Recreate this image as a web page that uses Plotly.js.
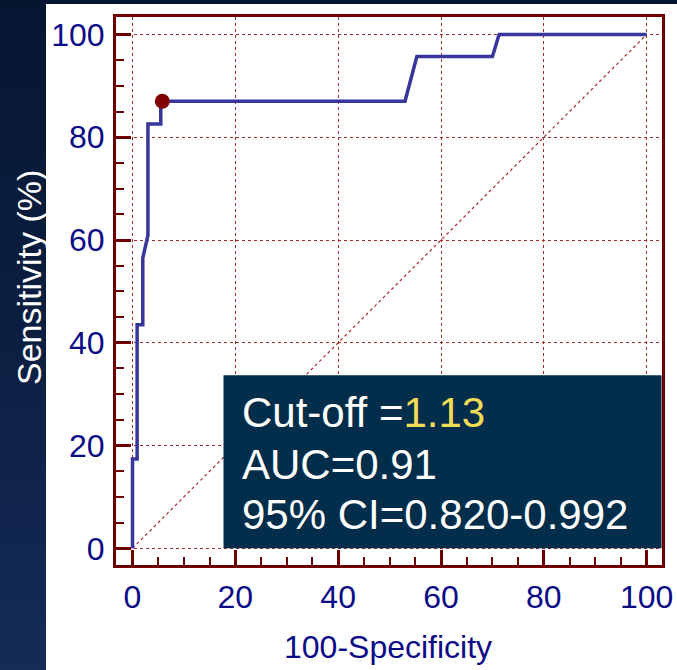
<!DOCTYPE html>
<html>
<head>
<meta charset="utf-8">
<script src="https://cdn.plot.ly/plotly-3.0.1.min.js"></script>
<style>
  html, body { margin: 0; padding: 0; }
  #chart {
    width: 677px; height: 670px;
    background: linear-gradient(to bottom, #061631 0%, #0c1f42 50%, #152b58 100%);
  }
</style>
</head>
<body>
<div id="chart"></div>
<script>
// ROC curve: 100-Specificity (x) vs Sensitivity (y), in percent
const fpr = [0, 0, 0.9, 0.9, 2, 2, 3, 3, 5.5, 5.5, 53, 55.3, 70, 71.3, 100];
const tpr = [0, 17.4, 17.4, 43.5, 43.5, 56.5, 60.9, 82.6, 82.6, 87.0, 87.0, 95.7, 95.7, 100, 100];

// Chance line
const refX = [0, 100];
const refY = [0, 100];

// Optimal criterion point
const cutX = [5.8];
const cutY = [87.0];

// Summary statistics
const cutoffValue = "1.13";
const aucValue = "0.91";
const ciLow = "0.820";
const ciHigh = "0.992";

const tickVals = [0, 20, 40, 60, 80, 100];
const tickText = ["0", "20", "40", "60", "80", "100"];

const frameColor = "#6e0000";
const gridColor = "#a52a2a";
const labelColor = "#0b0b88";
const font = "Liberation Sans, Arial, sans-serif";

const traces = [
  {
    x: refX, y: refY, type: "scatter", mode: "lines",
    line: { color: gridColor, width: 1.2, dash: "dot" },
    hoverinfo: "skip", showlegend: false
  },
  {
    x: fpr, y: tpr, type: "scatter", mode: "lines",
    line: { color: "#36369c", width: 3.5 },
    showlegend: false
  },
  {
    x: cutX, y: cutY, type: "scatter", mode: "markers",
    marker: { color: "#800000", size: 15 },
    showlegend: false
  }
];

const axisCommon = {
  tickvals: tickVals, ticktext: tickText,
  ticks: "inside", ticklen: 15, tickwidth: 3, tickcolor: frameColor,
  minor: { dtick: 5, ticks: "inside", ticklen: 8, tickwidth: 2, tickcolor: frameColor, showgrid: false },
  showline: true, linecolor: frameColor, linewidth: 3, mirror: true,
  showgrid: true, gridcolor: gridColor, gridwidth: 1, griddash: "dot",
  zeroline: false,
  tickfont: { family: font, size: 32, color: labelColor },
  fixedrange: true
};

const layout = {
  width: 677, height: 670,
  margin: { l: 116, r: 15, t: 17, b: 105 },
  paper_bgcolor: "rgba(0,0,0,0)",
  plot_bgcolor: "#ffffff",
  xaxis: Object.assign({}, axisCommon, { range: [-3.21, 102.98], ticklabelstandoff: 2 }),
  yaxis: Object.assign({}, axisCommon, { range: [-3.25, 103.4], ticklabelstandoff: 2 }),
  shapes: [
    // white panel behind the chart
    { type: "rect", xref: "paper", yref: "paper", x0: -0.1282, x1: 1.03, y0: -0.2, y1: 1.0237,
      fillcolor: "#ffffff", line: { width: 0 }, layer: "below" },
    // statistics box
    { type: "rect", xref: "x", yref: "y", x0: 17.7, x1: 102.9, y0: 0, y1: 33.7,
      fillcolor: "#032e4b", line: { width: 0 }, layer: "above" }
  ],
  annotations: [
    { text: "Sensitivity (%)", xref: "paper", yref: "paper", x: -0.1593, y: 0.5237,
      textangle: -90, showarrow: false, xanchor: "center", yanchor: "middle",
      font: { family: font, size: 34, color: "#ffffff" } },
    { text: "100-Specificity", xref: "paper", yref: "paper", x: 0.499, y: -0.1496,
      showarrow: false, xanchor: "center", yanchor: "middle",
      font: { family: font, size: 32, color: labelColor } },
    { text: "Cut-off =<span style=\"color:#f3dc55\">" + cutoffValue + "</span>",
      xref: "x", yref: "y", x: 21.0, y: 26.5, showarrow: false, xanchor: "left", yanchor: "middle",
      font: { family: font, size: 42, color: "#ffffff" } },
    { text: "AUC=" + aucValue,
      xref: "x", yref: "y", x: 21.0, y: 16.4, showarrow: false, xanchor: "left", yanchor: "middle",
      font: { family: font, size: 42, color: "#ffffff" } },
    { text: "95% CI=" + ciLow + "-" + ciHigh,
      xref: "x", yref: "y", x: 21.0, y: 6.5, showarrow: false, xanchor: "left", yanchor: "middle",
      font: { family: font, size: 42, color: "#ffffff" } }
  ]
};

Plotly.newPlot("chart", traces, layout, { displayModeBar: false, staticPlot: true });
</script>
</body>
</html>
